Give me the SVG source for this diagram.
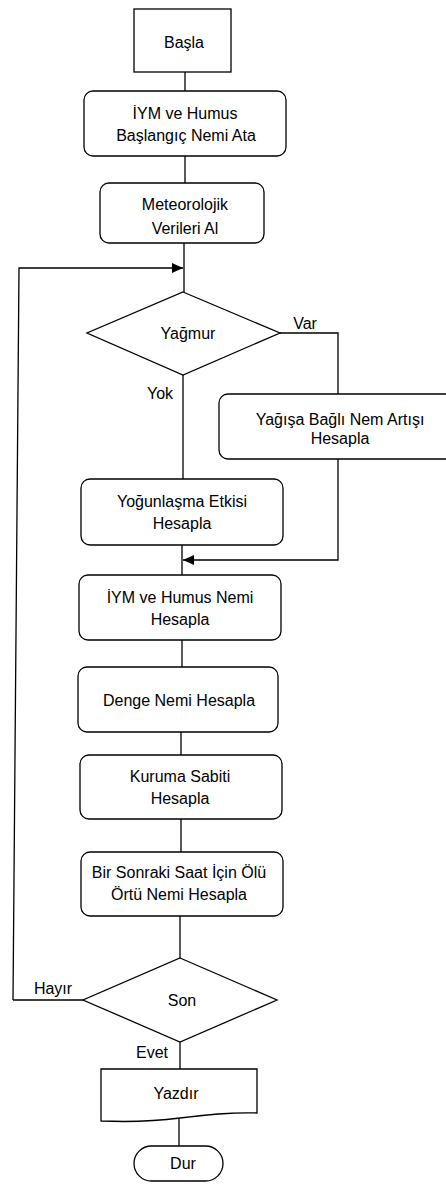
<svg xmlns="http://www.w3.org/2000/svg" width="446" height="1184" viewBox="0 0 446 1184">
<defs>
<marker id="arr" markerWidth="12" markerHeight="10" refX="11" refY="5" orient="auto" markerUnits="userSpaceOnUse">
<path d="M0,0 L11,5 L0,10 Z" fill="#000"/>
</marker>
<style>
.s{fill:#fff;stroke:#000;stroke-width:1.3}
.l{fill:none;stroke:#000;stroke-width:1.3}
.t{font-family:"Liberation Sans",Arial,sans-serif;font-size:16px;fill:#000;text-anchor:middle}
</style>
</defs>
<rect width="446" height="1184" fill="#fff"/>
<g id="connectors">
<path class="l" d="M185,72 V91"/>
<path class="l" d="M185,156 V183"/>
<path class="l" d="M184,243 V292"/>
<path class="l" d="M13,1000 L19,268 H183" marker-end="url(#arr)"/>
<path class="l" d="M280,333 H338 V394"/>
<path class="l" d="M183,375 V479"/>
<path class="l" d="M338,459 V560 H183" marker-end="url(#arr)"/>
<path class="l" d="M182,545 V575"/>
<path class="l" d="M182,640 V667"/>
<path class="l" d="M181,732 V755"/>
<path class="l" d="M181,819 V852"/>
<path class="l" d="M180,916 V958"/>
<path class="l" d="M83,1000 H13"/>
<path class="l" d="M180,1042 V1069"/>
<path class="l" d="M179,1118 V1146"/>
<text class="t" x="305" y="329">Var</text>
<text class="t" x="160" y="399">Yok</text>
<text class="t" x="53" y="994">Hayır</text>
<text class="t" x="152" y="1058">Evet</text>
</g>
<g id="basla">
<rect class="s" x="134" y="9" width="97" height="63"/>
<text class="t" x="184" y="48">Başla</text>
</g>
<g id="ata">
<rect class="s" x="84" y="91" width="202" height="65" rx="9"/>
<text class="t" x="185" y="119">İYM ve Humus</text>
<text class="t" x="186" y="141">Başlangıç Nemi Ata</text>
</g>
<g id="meteo">
<rect class="s" x="100" y="183" width="164" height="60" rx="9"/>
<text class="t" x="185" y="210">Meteorolojik</text>
<text class="t" x="185" y="234">Verileri Al</text>
</g>
<g id="yagmur">
<path class="s" d="M183,292 L280,333 L183,375 L87,333 Z"/>
<text class="t" x="188" y="339">Yağmur</text>
</g>
<g id="yagis">
<rect class="s" x="219" y="394" width="240" height="65" rx="9"/>
<text class="t" x="340" y="425">Yağışa Bağlı Nem Artışı</text>
<text class="t" x="340" y="444">Hesapla</text>
</g>
<g id="yogunlasma">
<rect class="s" x="81" y="479" width="202" height="66" rx="9"/>
<text class="t" x="182" y="507">Yoğunlaşma Etkisi</text>
<text class="t" x="182" y="529">Hesapla</text>
</g>
<g id="humus">
<rect class="s" x="79" y="575" width="202" height="65" rx="9"/>
<text class="t" x="180" y="603">İYM ve Humus Nemi</text>
<text class="t" x="180" y="625">Hesapla</text>
</g>
<g id="denge">
<rect class="s" x="78" y="667" width="200" height="65" rx="9"/>
<text class="t" x="179" y="706">Denge Nemi Hesapla</text>
</g>
<g id="kuruma">
<rect class="s" x="80" y="755" width="202" height="64" rx="9"/>
<text class="t" x="180" y="782">Kuruma Sabiti</text>
<text class="t" x="180" y="804">Hesapla</text>
</g>
<g id="sonraki">
<rect class="s" x="81" y="852" width="202" height="64" rx="9"/>
<text class="t" x="179" y="878">Bir Sonraki Saat İçin Ölü</text>
<text class="t" x="179" y="900">Örtü Nemi Hesapla</text>
</g>
<g id="son">
<path class="s" d="M180,958 L277,1000 L180,1042 L83,1000 Z"/>
<text class="t" x="182" y="1006">Son</text>
</g>
<g id="yazdir">
<path class="s" d="M101,1069 H257 V1113 C230,1112 205,1115 180,1118 C150,1122 125,1122 101,1121 Z"/>
<text class="t" x="176" y="1099">Yazdır</text>
</g>
<g id="dur">
<rect class="s" x="134" y="1146" width="89" height="35" rx="17.5"/>
<text class="t" x="183" y="1169">Dur</text>
</g>
</svg>
